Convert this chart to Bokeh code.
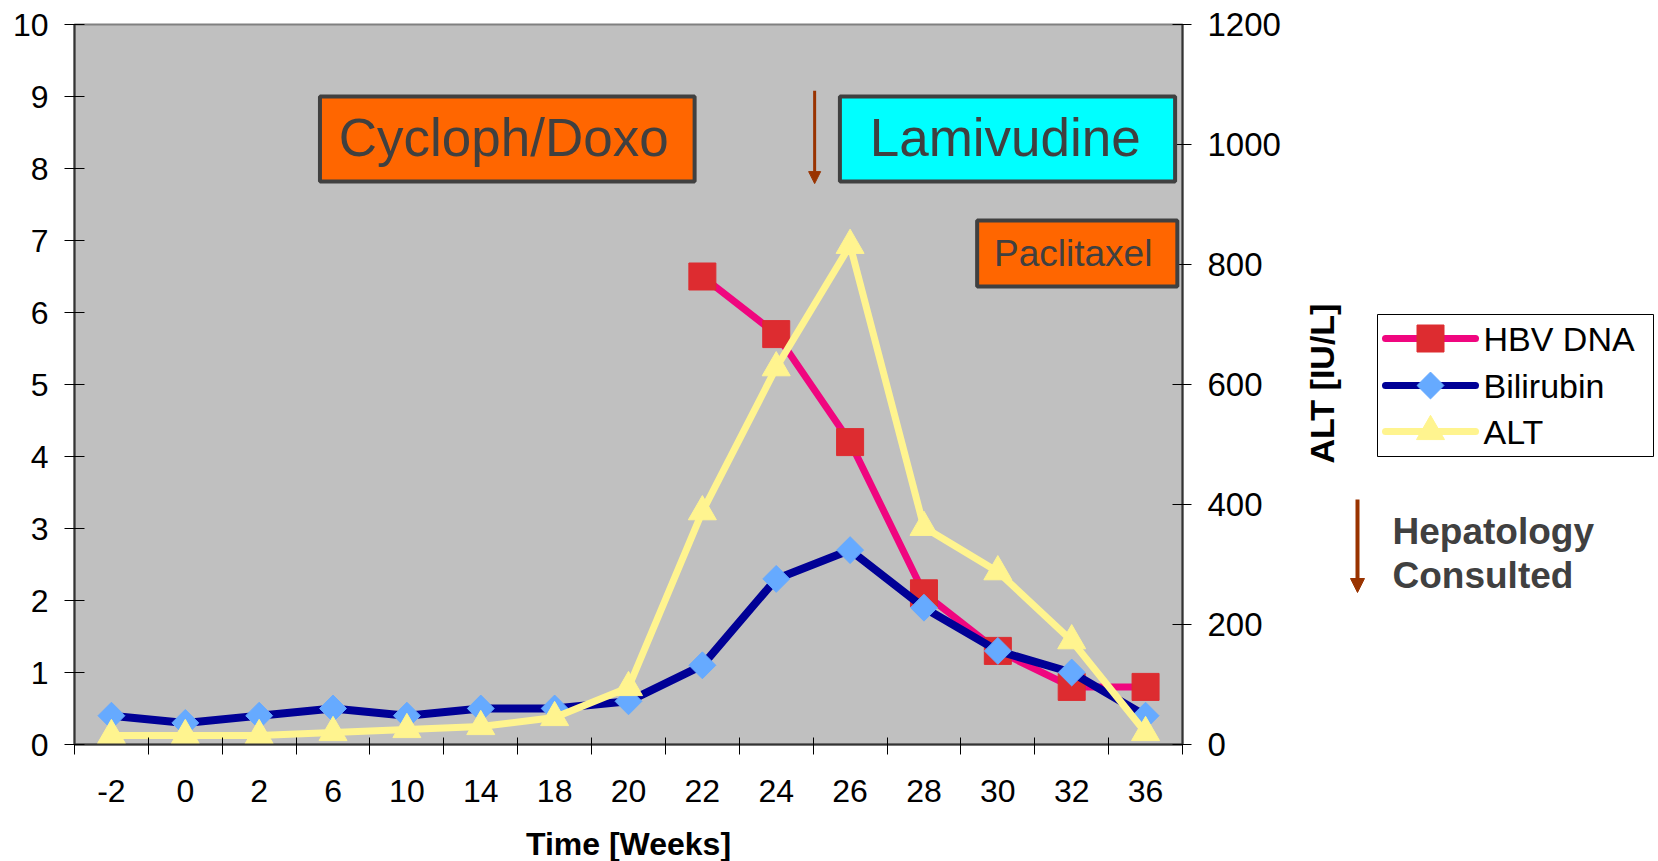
import math
from bokeh.plotting import figure
from bokeh.layouts import row
from bokeh.models import (Range1d, LinearAxis, FixedTicker, BoxAnnotation, Label,
                          Arrow, NormalHead)
from bokeh.core.properties import value
from bokeh.embed import file_html
from bokeh.resources import INLINE

# ---------------- data ----------------
weeks = ["-2", "0", "2", "6", "10", "14", "18", "20", "22", "24", "26", "28", "30", "32", "36"]
hbv_dna = [math.nan] * 8 + [6.5, 5.7, 4.2, 2.1, 1.3, 0.8, 0.8]
bilirubin = [0.4, 0.3, 0.4, 0.5, 0.4, 0.5, 0.5, 0.6, 1.1, 2.3, 2.7, 1.9, 1.3, 1.0, 0.4]
alt = [15, 15, 15, 20, 25, 30, 45, 95, 388, 628, 832, 362, 288, 173, 20]
left_ticks = list(range(0, 11))
right_ticks = list(range(0, 1201, 200))
series_names = ["HBV DNA", "Bilirubin", "ALT"]

xs = list(range(len(weeks)))
FONT = "Liberation Sans"

HBV_LINE, HBV_MARK = "#F0067F", "#DD2C30"
BIL_LINE, BIL_MARK = "#000096", "#66AAFF"
ALT_COL = "#FFF48F"
BROWN = "#993300"

# ---------------- main chart ----------------
p = figure(frame_width=1108, frame_height=720,
           x_range=Range1d(-0.5, len(weeks) - 0.5), y_range=Range1d(0, 10),
           output_backend="svg", toolbar_location=None,
           min_border_left=74, min_border_top=24, min_border_right=108, min_border_bottom=117)
p.background_fill_color = "#C0C0C0"
p.border_fill_color = "white"
p.outline_line_color = "#808080"
p.outline_line_width = 2
p.xgrid.visible = False
p.ygrid.visible = False
p.extra_y_ranges = {"alt": Range1d(0, 1200)}

# x axis: labels at category centres, ticks at category boundaries
xa = p.xaxis[0]
xa.ticker = FixedTicker(ticks=xs, minor_ticks=[i - 0.5 for i in range(len(weeks) + 1)])
xa.major_label_overrides = {i: w for i, w in enumerate(weeks)}
xa.major_tick_line_color = None
xa.major_tick_out = 10
xa.major_tick_in = 0
xa.minor_tick_line_color = "black"
xa.minor_tick_out = 10
xa.minor_tick_in = 7
xa.axis_line_color = "#333333"
xa.axis_line_width = 2
xa.major_label_text_font = FONT
xa.major_label_text_font_size = "32px"
xa.major_label_text_color = "black"
xa.major_label_standoff = 25
xa.axis_label = "Time [Weeks]"
xa.axis_label_text_font = FONT
xa.axis_label_text_font_size = "32px"
xa.axis_label_text_font_style = "bold"
xa.axis_label_text_color = "black"
xa.axis_label_standoff = 21

ya = p.yaxis[0]
ya.ticker = FixedTicker(ticks=left_ticks)
ya.minor_tick_line_color = None
ya.major_tick_in = 10
ya.major_tick_out = 10
ya.major_tick_line_color = "black"
ya.axis_line_color = "#333333"
ya.axis_line_width = 2
ya.major_label_text_font = FONT
ya.major_label_text_font_size = "32px"
ya.major_label_text_color = "black"
ya.major_label_standoff = 16

ra = LinearAxis(y_range_name="alt", ticker=FixedTicker(ticks=right_ticks))
ra.minor_tick_line_color = None
ra.major_tick_in = 10
ra.major_tick_out = 9
ra.major_tick_line_color = "black"
ra.axis_line_color = "#333333"
ra.axis_line_width = 2
ra.major_label_text_font = FONT
ra.major_label_text_font_size = "33px"
ra.major_label_text_color = "black"
ra.major_label_standoff = 16
p.add_layout(ra, "right")

# ---------------- series ----------------
p.line(xs, hbv_dna, line_color=HBV_LINE, line_width=7)
p.scatter(xs, hbv_dna, marker="square", size=27, fill_color=HBV_MARK, line_color=HBV_MARK)
p.line(xs, bilirubin, line_color=BIL_LINE, line_width=8)
p.scatter(xs, bilirubin, marker="square", angle=math.pi / 4, size=19,
          fill_color=BIL_MARK, line_color=BIL_MARK)
p.line(xs, alt, line_color=ALT_COL, line_width=7, y_range_name="alt")
p.scatter(xs, alt, marker="triangle", size=28, fill_color=ALT_COL, line_color=ALT_COL,
          y_range_name="alt")

# ---------------- annotations in the plot ----------------
boxes = [("Cycloph/Doxo", 2.823, 7.895, 9.0, 7.82, "#FF6600", 5.31, 8.43, "53px"),
         ("Lamivudine", 9.862, 14.40, 9.0, 7.82, "#00FFFF", 12.10, 8.43, "53px"),
         ("Paclitaxel", 11.72, 14.43, 7.278, 6.361, "#FF6600", 13.02, 6.82, "37px")]
for txt, lft, rgt, top, bot, fill, tx, ty, fs in boxes:
    p.add_layout(BoxAnnotation(left=lft, right=rgt, top=top, bottom=bot, fill_color=fill,
                               fill_alpha=1, line_color="#404040", line_width=4, line_alpha=1))
    p.add_layout(Label(x=tx, y=ty, text=txt, text_align="center", text_baseline="middle",
                       text_font=FONT, text_font_size=fs, text_color="#404040"))

p.add_layout(Arrow(end=NormalHead(size=12, fill_color=BROWN, line_color=BROWN),
                   x_start=9.52, y_start=9.08, x_end=9.52, y_end=7.79,
                   line_color=BROWN, line_width=3))

# ---------------- side panel (pixel-like coordinates, y downwards) ----------------
q = figure(frame_width=368, frame_height=720, x_range=Range1d(1290, 1658),
           y_range=Range1d(744, 24), x_axis_location=None, y_axis_location=None,
           output_backend="svg", toolbar_location=None,
           min_border_left=0, min_border_right=0, min_border_top=24, min_border_bottom=117)
q.outline_line_color = None
q.background_fill_color = "white"
q.border_fill_color = "white"
q.xgrid.visible = False
q.ygrid.visible = False

# legend
q.quad(left=1377, right=1653, top=314, bottom=456, fill_color="white",
       line_color="black", line_width=1)
rows_y = [338, 385, 431]
line_cols = [HBV_LINE, BIL_LINE, ALT_COL]
q.segment(x0=[1385] * 3, x1=[1475] * 3, y0=rows_y, y1=rows_y, line_color=line_cols,
          line_width=7, line_cap="round")
q.scatter([1430], [rows_y[0]], marker="square", size=27, fill_color=HBV_MARK, line_color=HBV_MARK)
q.scatter([1430], [rows_y[1]], marker="square", angle=math.pi / 4, size=19,
          fill_color=BIL_MARK, line_color=BIL_MARK)
q.scatter([1430], [rows_y[2]], marker="triangle", size=28, fill_color=ALT_COL, line_color=ALT_COL)
q.text(x=[1483] * 3, y=rows_y, text=series_names, text_font=value(FONT),
       text_font_size="34px", text_color="black", text_baseline="middle", text_align="left")

# right axis title
q.add_layout(Label(x=1321, y=383, text="ALT [IU/L]", angle=math.pi / 2, text_font=FONT,
                   text_font_size="34px", text_font_style="bold", text_color="black",
                   text_align="center", text_baseline="middle"))

# note
q.add_layout(Arrow(end=NormalHead(size=14, fill_color=BROWN, line_color=BROWN),
                   x_start=1357, y_start=499, x_end=1357, y_end=592,
                   line_color=BROWN, line_width=4))
q.add_layout(Label(x=1392, y=531, text="Hepatology", text_font=FONT, text_font_size="37px",
                   text_font_style="bold", text_color="#404040", text_baseline="alphabetic"))
q.add_layout(Label(x=1392, y=575, text="Consulted", text_font=FONT, text_font_size="37px",
                   text_font_style="bold", text_color="#404040", text_baseline="alphabetic"))

layout = row(p, q, spacing=0)
open("out.html", "w").write(file_html(layout, INLINE))
